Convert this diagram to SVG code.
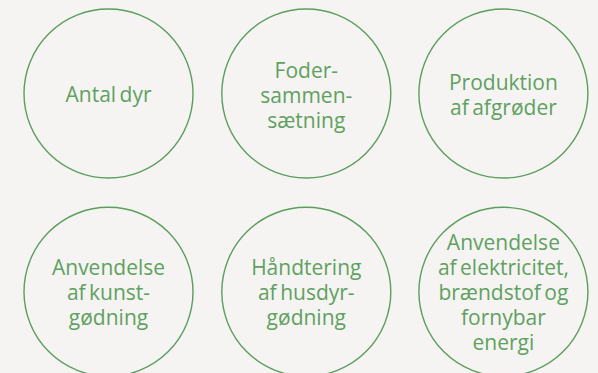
<svg xmlns="http://www.w3.org/2000/svg" width="598" height="373" viewBox="0 0 598 373">
<style>
.c{fill:none;stroke:#5c9e5c;stroke-width:1.4}
.t{font-family:"Open Sans","Noto Sans",sans-serif;font-size:21px;fill:#5fa15f;text-anchor:middle;word-spacing:-2px}
</style>
<rect width="598" height="373" fill="#f5f4f3"/>
<g id="n1"><circle class="c" cx="108.5" cy="93.5" r="84.5"/><text class="t" x="108.5" y="102">Antal dyr</text></g>
<g id="n2"><circle class="c" cx="306.3" cy="93.5" r="84.5"/><text class="t" x="306.3" y="78">Foder-</text><text class="t" x="306.3" y="103">sammen-</text><text class="t" x="306.3" y="128">sætning</text></g>
<g id="n3"><circle class="c" cx="503.4" cy="93.5" r="84.5"/><text class="t" x="503.4" y="90">Produktion</text><text class="t" x="503.4" y="115">af afgrøder</text></g>
<g id="n4"><circle class="c" cx="108.5" cy="291.8" r="84.5"/><text class="t" x="108.5" y="275">Anvendelse</text><text class="t" x="108.5" y="300">af kunst-</text><text class="t" x="108.5" y="325">gødning</text></g>
<g id="n5"><circle class="c" cx="306.3" cy="291.8" r="84.5"/><text class="t" x="306.3" y="275">Håndtering</text><text class="t" x="306.3" y="300">af husdyr-</text><text class="t" x="306.3" y="325">gødning</text></g>
<g id="n6"><circle class="c" cx="503.4" cy="291.8" r="84.5"/><text class="t" x="503.4" y="250">Anvendelse</text><text class="t" x="503.4" y="275">af elektricitet,</text><text class="t" x="503.4" y="300">brændstof og</text><text class="t" x="503.4" y="325">fornybar</text><text class="t" x="503.4" y="350">energi</text></g>
<g id="connectors"/>
</svg>
